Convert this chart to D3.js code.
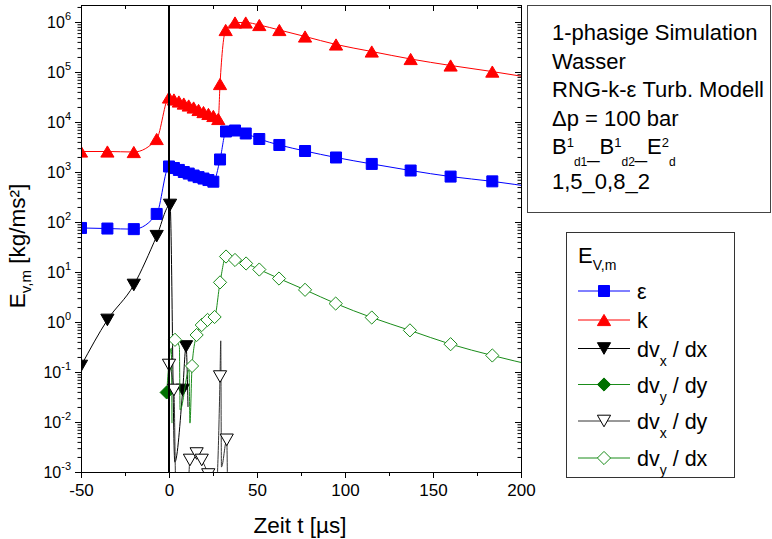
<!DOCTYPE html>
<html>
<head>
<meta charset="utf-8">
<script src="https://cdn.jsdelivr.net/npm/d3@7"></script>
<style>
  html, body { margin: 0; padding: 0; background: #fff; }
  svg { display: block; font-family: "Liberation Sans", Arial, Helvetica, sans-serif; }
</style>
</head>
<body>
<svg id="chart" width="772" height="539"></svg>
<script>
// ---- axis ranges and ticks ----
const xDomain = [-50, 200];
const yDomain = [1e-3, Math.pow(10, 6.34)];
const xMajorTicks = [-50, 0, 50, 100, 150, 200];
const xMinorTicks = [-25, 25, 75, 125, 175];
const yDecades = [-3, -2, -1, 0, 1, 2, 3, 4, 5, 6];
const shockTime = 0;   // moment of the pressure step, marked by a vertical line

// ---- epsilon ----
const epsT = [-50, -35, -20, -7, 0, 2.8, 5.6, 8.4, 11.2, 14, 16.8, 19.6, 22.4, 25.2,
              29, 32.4, 37.5, 43.6, 51.3, 62.7, 77.3, 94.9, 115.2, 137.3, 160, 183.7, 208.5];
const epsE = [76, 74, 72, 145, 1290, 1200, 1100, 1000, 930, 850, 790, 740, 690, 640,
              1780, 6460, 6760, 5890, 4570, 3470, 2630, 1950, 1450, 1070, 810, 650, 490];

// ---- k ----
const kT = [-50, -35, -20, -7, 0, 2.8, 5.6, 8.4, 11.2, 14, 16.8, 19.6, 22.4, 25.2, 28,
            29, 32.2, 37.5, 43.6, 51.3, 62.7, 77.3, 94.9, 115.2, 137.3, 160, 183.7, 208.5];
const kE = [2570, 2570, 2510, 4570, 30900, 28200, 25700, 23400, 21400, 19500, 17400, 15800, 14500, 13200, 11500,
            57500, 692000, 977000, 977000, 871000, 692000, 513000, 355000, 257000, 182000, 135000, 102000, 74000];

// ---- dvx/dx ----
const dvxdxT = [-50, -35, -20, -7, 0.6, 3.3, 7.8, 9.7, 10.8];
const dvxdxE = [0.132, 1.10, 5.5, 52, 219, 0.00158, 0.0437, 0.324, 0.020];
const dvxdxMark = [1, 1, 1, 1, 1, 0, 1, 1, 0];

// ---- dvy/dy ----
const dvydyT = [-1.3, 1.3, 1.7];
const dvydyE = [0.039, 0.30, 0.0095];
const dvydyMark = [1, 0, 0];

// ---- dvx/dy ----
const dvxdyT = [0, 2.8, 4.0, 10.5, 11.9, 15.7, 18.6, 22.3, 26.5, 29.0, 29.4, 29.8, 32.8, 33.3];
const dvxdyE = [0.138, 0.0437, 0.0003, 0.0003, 0.00174, 0.00234, 0.00174, 0.00089, 0.0003,
                0.081, 0.42, 0.00126, 0.0044, 0.0003];
const dvxdyMark = [1, 1, 0, 0, 1, 1, 1, 1, 0, 1, 0, 0, 1, 0];

// ---- dvy/dx ----
const dvydxT = [3.4, 5.9, 6.3, 11.4, 11.9, 13.1, 15.7, 18.6, 21.9, 25.9, 29.0, 32.4, 37.5, 43.8,
                51.3, 62.5, 77.3, 94.7, 115.2, 136.9, 160, 183.7, 208.5];
const dvydxE = [0.44, 0.32, 0.0174, 0.11, 0.0095, 0.132, 0.55, 0.87, 1.10, 1.26, 6.2, 20.4, 17.4, 14.8,
                11.2, 7.4, 4.4, 2.34, 1.23, 0.68, 0.36, 0.214, 0.132];
const dvydxMark = [1, 0, 0, 0, 0, 1, 1, 1, 1, 1, 1, 1, 1, 1, 1, 1, 1, 1, 1, 1, 1, 1, 1];

// ---- annotation text ----
const infoLines = ["1-phasige Simulation", "Wasser", "RNG-k-\u03b5 Turb. Modell", "\u0394p = 100 bar", null, "1,5_0,8_2"];
const configParts = [
  ["B", 0, 22], ["1", -7, 13], ["d1", 12, 12], ["_", 4, 22],
  ["B", 0, 22], ["1", -7, 13], ["d2", 12, 12], ["_", 4, 22],
  ["E", 0, 22], ["2", -7, 13], ["d", 12, 12]
];

// ---- layout ----
const svg = d3.select("#chart");
const P = { left: 81, right: 521, top: 5, bottom: 472 };
const x = d3.scaleLinear().domain(xDomain).range([P.left, P.right]);
const y = d3.scaleLog().domain(yDomain).range([P.bottom, P.top]);

svg.append("defs").append("clipPath").attr("id", "plotClip")
  .append("rect").attr("x", P.left).attr("y", P.top)
  .attr("width", P.right - P.left).attr("height", P.bottom - P.top);

function markerPath(shape) {
  switch (shape) {
    case "square": return "M-5.5,-5.5H5.5V5.5H-5.5Z";
    case "up": return "M0,-5.6L6.6,5.6L-6.6,5.6Z";
    case "down": return "M0,5.8L6.6,-5.8L-6.6,-5.8Z";
    case "diamond": return "M0,-6.6L6.6,0L0,6.6L-6.6,0Z";
  }
}

const seriesDefs = [
  { t: epsT, v: epsE, mark: null, line: "#0000ff", shape: "square", fill: "#0000ff", stroke: "#0000ff" },
  { t: kT, v: kE, mark: null, line: "#ff0000", shape: "up", fill: "#ff0000", stroke: "#ff0000" },
  { t: dvxdxT, v: dvxdxE, mark: dvxdxMark, line: "#000000", shape: "down", fill: "#000000", stroke: "#000000" },
  { t: dvydyT, v: dvydyE, mark: dvydyMark, line: "#1a8c1a", shape: "diamond", fill: "#007000", stroke: "#007000" },
  { t: dvxdyT, v: dvxdyE, mark: dvxdyMark, line: "#333333", shape: "down", fill: "#ffffff", stroke: "#000000" },
  { t: dvydxT, v: dvydxE, mark: dvydxMark, line: "#1a8c1a", shape: "diamond", fill: "#ffffff", stroke: "#1a8c1a" }
];

const lineGen = d3.line().x(d => x(d.t)).y(d => y(d.v)).curve(d3.curveMonotoneX);
const dataLayer = svg.append("g").attr("clip-path", "url(#plotClip)");

seriesDefs.forEach(s => {
  const pts = s.t.map((t, i) => ({ t, v: s.v[i], m: s.mark ? s.mark[i] : 1 }));
  dataLayer.append("path").datum(pts)
    .attr("d", lineGen).attr("fill", "none")
    .attr("stroke", s.line).attr("stroke-width", 1);
  dataLayer.selectAll(null).data(pts.filter(p => p.m)).enter().append("path")
    .attr("d", markerPath(s.shape))
    .attr("transform", p => `translate(${x(p.t)},${y(p.v)})`)
    .attr("fill", s.fill).attr("stroke", s.stroke).attr("stroke-width", 1);
});

// vertical line at the pressure step
dataLayer.append("line")
  .attr("x1", x(shockTime)).attr("x2", x(shockTime))
  .attr("y1", P.top).attr("y2", P.bottom)
  .attr("stroke", "#000").attr("stroke-width", 2);

// ---- axes ----
const yMinor = [];
yDecades.forEach(k => { for (let m = 2; m <= 9; m++) { const v = m * Math.pow(10, k); if (v <= yDomain[1]) yMinor.push(v); } });

function styleAxis(g) {
  g.selectAll("path.domain").attr("stroke", "#000").attr("stroke-width", 1);
  g.selectAll(".tick line").attr("stroke", "#000").attr("stroke-width", 1);
}

svg.append("g").attr("transform", `translate(0,${P.bottom})`)
  .call(d3.axisBottom(x).tickValues(xMajorTicks).tickSize(6).tickSizeOuter(0).tickPadding(6).tickFormat(d => String(d)))
  .call(styleAxis)
  .call(g => g.selectAll("text").attr("font-size", 17).attr("fill", "#000").attr("font-family", "Liberation Sans, Arial, sans-serif"));
svg.append("g").attr("transform", `translate(0,${P.bottom})`)
  .call(d3.axisBottom(x).tickValues(xMinorTicks).tickSize(4).tickSizeOuter(0).tickFormat(""))
  .call(styleAxis);
svg.append("g").attr("transform", `translate(0,${P.top})`)
  .call(d3.axisTop(x).tickValues(xMajorTicks).tickSize(-6).tickSizeOuter(0).tickFormat(""))
  .call(styleAxis);
svg.append("g").attr("transform", `translate(0,${P.top})`)
  .call(d3.axisTop(x).tickValues(xMinorTicks).tickSize(-4).tickSizeOuter(0).tickFormat(""))
  .call(styleAxis);

const majorY = yDecades.map(k => Math.pow(10, k));
svg.append("g").attr("transform", `translate(${P.left},0)`)
  .call(d3.axisLeft(y).tickValues(majorY).tickSize(6).tickSizeOuter(0).tickFormat(""))
  .call(styleAxis);
svg.append("g").attr("transform", `translate(${P.left},0)`)
  .call(d3.axisLeft(y).tickValues(yMinor).tickSize(3.5).tickSizeOuter(0).tickFormat(""))
  .call(styleAxis);
svg.append("g").attr("transform", `translate(${P.right},0)`)
  .call(d3.axisRight(y).tickValues(majorY).tickSize(-6).tickSizeOuter(0).tickFormat(""))
  .call(styleAxis);
svg.append("g").attr("transform", `translate(${P.right},0)`)
  .call(d3.axisRight(y).tickValues(yMinor).tickSize(-3.5).tickSizeOuter(0).tickFormat(""))
  .call(styleAxis);

// decade labels 10^k
const yLab = svg.append("g").attr("font-size", 16).attr("fill", "#000");
yDecades.forEach(k => {
  const t = yLab.append("text").attr("x", 71).attr("y", y(Math.pow(10, k)) + 6).attr("text-anchor", "end");
  t.append("tspan").text("10");
  t.append("tspan").attr("font-size", 11).attr("dy", -8).text(String(k));
});

// axis titles
svg.append("text").attr("x", 300).attr("y", 533).attr("text-anchor", "middle")
  .attr("font-size", 22.5).text("Zeit t [\u00b5s]");
const yt = svg.append("text").attr("transform", "rotate(-90)")
  .attr("x", -246).attr("y", 25).attr("text-anchor", "middle").attr("font-size", 22.5);
yt.append("tspan").text("E");
yt.append("tspan").attr("font-size", 15).attr("dy", 6).text("v,m");
yt.append("tspan").attr("dy", -6).text(" [kg/ms\u00b2]");

// ---- info box ----
svg.append("rect").attr("x", 527.5).attr("y", 5.5).attr("width", 243).attr("height", 207)
  .attr("fill", "#fff").attr("stroke", "#444").attr("stroke-width", 1);
const infoBase = [40, 68.5, 97, 125.5, 154, 188.5];
infoLines.forEach((txt, i) => {
  const t = svg.append("text").attr("x", 552).attr("y", infoBase[i]).attr("font-size", 22).attr("fill", "#000");
  if (txt !== null) { t.text(txt); return; }
  let cur = 0;
  configParts.forEach(([s, off, size]) => {
    t.append("tspan").attr("dy", off - cur).attr("font-size", size).text(s);
    cur = off;
  });
});

// ---- legend ----
const L = { x: 566, y: 232, w: 168, h: 245 };
svg.append("rect").attr("x", L.x + 0.5).attr("y", L.y + 0.5).attr("width", L.w).attr("height", L.h)
  .attr("fill", "#fff").attr("stroke", "#333").attr("stroke-width", 1);
const lt = svg.append("text").attr("x", 578).attr("y", 263).attr("font-size", 22);
lt.append("tspan").text("E");
lt.append("tspan").attr("font-size", 14).attr("dy", 7).text("V,m");

const legendRows = [291, 320, 348.5, 384.5, 421, 458];
const legendLabels = [
  [["\u03b5", 0]], [["k", 0]],
  [["dv", 0], ["x", 1], [" / dx", 0]],
  [["dv", 0], ["y", 1], [" / dy", 0]],
  [["dv", 0], ["x", 1], [" / dy", 0]],
  [["dv", 0], ["y", 1], [" / dx", 0]]
];
seriesDefs.forEach((s, i) => {
  const cy = legendRows[i];
  svg.append("line").attr("x1", 578).attr("x2", 630).attr("y1", cy).attr("y2", cy)
    .attr("stroke", s.line).attr("stroke-width", 1);
  svg.append("path").attr("d", markerPath(s.shape)).attr("transform", `translate(604,${cy})`)
    .attr("fill", s.fill).attr("stroke", s.stroke).attr("stroke-width", 1);
  const t = svg.append("text").attr("x", 637).attr("y", cy + 8).attr("font-size", 21.5);
  let cur = 0;
  legendLabels[i].forEach(([str, sub]) => {
    const off = sub ? 9 : 0;
    t.append("tspan").attr("dy", off - cur).attr("font-size", sub ? 14 : 21.5).text(str);
    cur = off;
  });
});
</script>
</body>
</html>
